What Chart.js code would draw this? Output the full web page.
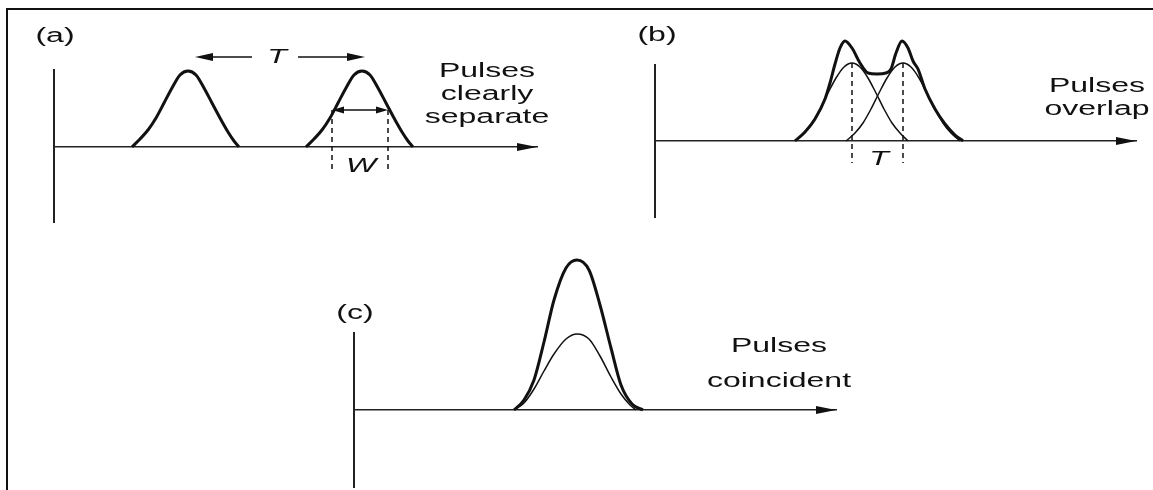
<!DOCTYPE html>
<html>
<head>
<meta charset="utf-8">
<script src="https://cdn.jsdelivr.net/npm/chart.js@4.4.1/dist/chart.umd.min.js"></script>
<style>
  html, body { margin: 0; padding: 0; background: #fff; }
  #pagina { position: relative; width: 1153px; height: 490px; overflow: hidden; }
  #pagina canvas { position: absolute; left: 0; top: 0; }
  #moldura { position: absolute; left: 6px; top: 8px; width: 1200px; height: 600px; border-left: 2px solid #111; border-top: 2px solid #111; }
</style>
</head>
<body>
<div id="pagina">
  <div id="moldura"></div>
  <canvas id="graficoA" width="1153" height="490"></canvas>
  <canvas id="graficoB" width="1153" height="490"></canvas>
  <canvas id="graficoC" width="1153" height="490"></canvas>
</div>
<script>
// (a) pulsos bem separados - x em px a partir do eixo, y em px acima da base
const pulsoA1X = [78, 86, 94, 102, 110, 118, 126, 134, 142, 150, 158, 166, 174, 180, 185];
const pulsoA2X = [252, 260, 268, 276, 284, 292, 300, 308, 316, 324, 332, 340, 348, 354, 359];
const pulsoAY  = [0, 8, 17, 29, 44, 59, 72, 76, 72, 59, 44, 29, 15, 6, 0];

// (b) pulsos sobrepostos
const envoltoriaBX = [140, 150, 160, 170, 175, 180, 185, 190, 197, 205, 213, 222, 231, 236, 241, 247, 253, 258, 263, 270, 280, 290, 300, 308];
const envoltoriaBY = [0, 9, 22, 42, 58, 77, 93, 100, 93, 78, 68, 67, 68, 72, 88, 100, 93, 80, 72, 52, 32, 17, 6, 0];
const pulsoB1X = [140, 149, 157, 165, 173, 181, 189, 197, 205, 213, 221, 229, 237, 245, 253];
const pulsoB2X = [191, 200, 208, 216, 224, 232, 240, 248, 256, 264, 272, 280, 288, 296, 305];
const pulsoBY  = [0, 8, 18, 32, 48, 63, 74, 78, 74, 63, 48, 32, 18, 8, 0];

// (c) pulsos coincidentes
const somaCX  = [160, 170, 180, 190, 200, 212, 223, 235, 246, 257, 267, 278, 289];
const somaCY  = [0, 10, 30, 68, 110, 142, 150, 140, 105, 62, 25, 6, 0];
const pulsoCX = [160, 170, 180, 190, 200, 212, 223, 235, 246, 257, 267, 276, 282];
const pulsoCY = [0, 7, 21, 39, 56, 71, 76, 71, 54, 33, 16, 5, 0];

const rotulosA = ['(a)', 'Pulses', 'clearly', 'separate', 'T', 'W'];
const rotulosB = ['(b)', 'Pulses', 'overlap', 'T'];
const rotulosC = ['(c)', 'Pulses', 'coincident'];

const COR = '#111';
const FONTE = '20px "Liberation Sans", Arial, sans-serif';
const FONTE_IT = 'italic 20px "Liberation Sans", Arial, sans-serif';
const ESTICAR = 1.6;

function pontos(xs, ys) { return xs.map((x, i) => ({ x: x, y: ys[i] })); }

function serie(xs, ys, largura) {
    return { data: pontos(xs, ys), borderColor: COR, borderWidth: largura, pointRadius: 0, fill: false,
             cubicInterpolationMode: 'monotone', clip: false };
}

function escalas(xMax, yMin, yMax) {
    return {
        x: { type: 'linear', min: 0, max: xMax, position: { y: 0 }, ticks: { display: false },
             grid: { display: false, drawTicks: false }, border: { display: true, color: '#222', width: 1.5 },
             afterFit: s => { s.height = 0; } },
        y: { type: 'linear', min: yMin, max: yMax, ticks: { display: false },
             grid: { display: false, drawTicks: false }, border: { display: true, color: '#222', width: 2 },
             afterFit: s => { s.width = 0; } }
    };
}

function texto(ctx, t, x, y, fonte) {
    ctx.save();
    ctx.translate(x, y);
    ctx.scale(ESTICAR, 1);
    ctx.font = fonte;
    ctx.fillStyle = COR;
    ctx.textAlign = 'center';
    ctx.textBaseline = 'alphabetic';
    ctx.fillText(t, 0, 0);
    ctx.restore();
}

function ponta(ctx, x, y, dir, comp, meia) {
    ctx.beginPath();
    ctx.moveTo(x, y);
    ctx.lineTo(x - dir * comp, y - meia);
    ctx.lineTo(x - dir * comp, y + meia);
    ctx.closePath();
    ctx.fillStyle = COR;
    ctx.fill();
}

function linha(ctx, x1, y1, x2, y2, largura, tracejado) {
    ctx.save();
    ctx.beginPath();
    ctx.setLineDash(tracejado || []);
    ctx.moveTo(x1, y1);
    ctx.lineTo(x2, y2);
    ctx.lineWidth = largura;
    ctx.strokeStyle = COR;
    ctx.stroke();
    ctx.restore();
}

function setaEixo(chart) {
    const ctx = chart.ctx, sx = chart.scales.x, sy = chart.scales.y;
    ponta(ctx, sx.getPixelForValue(sx.max), sy.getPixelForValue(0), 1, 20, 4);
}

function criarGrafico(id, datasets, xMax, yMin, yMax, padding, extras) {
    return new Chart(document.getElementById(id), {
        type: 'line',
        data: { datasets: datasets },
        options: {
            responsive: false, animation: false, events: [], devicePixelRatio: 1,
            layout: { padding: padding },
            plugins: { legend: { display: false }, tooltip: { enabled: false } },
            scales: escalas(xMax, yMin, yMax)
        },
        plugins: [{ id: 'extras' + id, afterDraw: chart => { setaEixo(chart); extras(chart); } }]
    });
}

criarGrafico('graficoA', [serie(pulsoA1X, pulsoAY, 3), serie(pulsoA2X, pulsoAY, 3)], 483, -75, 77,
    { left: 54, top: 70, right: 616, bottom: 268 }, chart => {
        const ctx = chart.ctx, sx = chart.scales.x, sy = chart.scales.y;
        const X = v => sx.getPixelForValue(v), Y = v => sy.getPixelForValue(v);
        texto(ctx, rotulosA[0], X(1), Y(105), FONTE);
        texto(ctx, rotulosA[1], X(433), Y(70), FONTE);
        texto(ctx, rotulosA[2], X(433), Y(47), FONTE);
        texto(ctx, rotulosA[3], X(433), Y(24), FONTE);
        // seta T
        linha(ctx, X(141) + 10, Y(90), X(198), Y(90), 1.5);
        ponta(ctx, X(141), Y(90), -1, 18, 4);
        linha(ctx, X(244), Y(90), X(311) - 10, Y(90), 1.5);
        ponta(ctx, X(311), Y(90), 1, 18, 4);
        texto(ctx, rotulosA[4], X(223), Y(84), FONTE_IT);
        // largura W
        linha(ctx, X(278) + 6, Y(37), X(334) - 6, Y(37), 1.5);
        ponta(ctx, X(278), Y(37), -1, 12, 3.5);
        ponta(ctx, X(334), Y(37), 1, 12, 3.5);
        linha(ctx, X(278), Y(37), X(278), Y(-26), 1.5, [5, 4]);
        linha(ctx, X(334), Y(37), X(334), Y(-26), 1.5, [5, 4]);
        texto(ctx, rotulosA[5], X(307), Y(-25), FONTE_IT);
    });

criarGrafico('graficoB', [serie(envoltoriaBX, envoltoriaBY, 3), serie(pulsoB1X, pulsoBY, 1.5), serie(pulsoB2X, pulsoBY, 1.5)],
    481, -76, 76, { left: 655, top: 65, right: 17, bottom: 273 }, chart => {
        const ctx = chart.ctx, sx = chart.scales.x, sy = chart.scales.y;
        const X = v => sx.getPixelForValue(v), Y = v => sy.getPixelForValue(v);
        texto(ctx, rotulosB[0], X(2), Y(100), FONTE);
        texto(ctx, rotulosB[1], X(442), Y(49), FONTE);
        texto(ctx, rotulosB[2], X(442), Y(26), FONTE);
        linha(ctx, X(197), Y(78), X(197), Y(-22), 1.5, [5, 4]);
        linha(ctx, X(248), Y(78), X(248), Y(-22), 1.5, [5, 4]);
        texto(ctx, rotulosB[3], X(224), Y(-24), FONTE_IT);
    });

criarGrafico('graficoC', [serie(somaCX, somaCY, 3), serie(pulsoCX, pulsoCY, 1.5)],
    482, -77, 77, { left: 354, top: 333, right: 317, bottom: 3 }, chart => {
        const ctx = chart.ctx, sx = chart.scales.x, sy = chart.scales.y;
        const X = v => sx.getPixelForValue(v), Y = v => sy.getPixelForValue(v);
        texto(ctx, rotulosC[0], X(1), Y(91), FONTE);
        texto(ctx, rotulosC[1], X(425), Y(58), FONTE);
        texto(ctx, rotulosC[2], X(425), Y(23), FONTE);
    });
</script>
</body>
</html>
